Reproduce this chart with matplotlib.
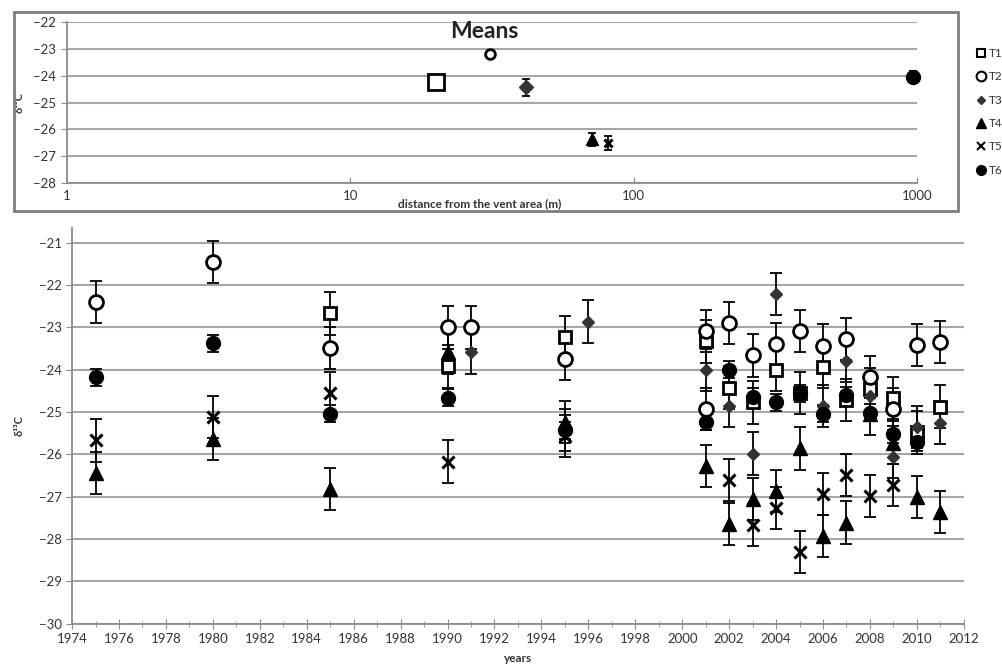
import numpy as np
import matplotlib
matplotlib.use("Agg")
import matplotlib.pyplot as plt
from matplotlib.lines import Line2D
from matplotlib.patches import Rectangle
from matplotlib.ticker import MultipleLocator, FixedLocator

plt.rcParams['font.family'] = ['Lato', 'DejaVu Sans']

# --- data ---
series = ['T1', 'T2', 'T3', 'T4', 'T5', 'T6']

t1_years = [1985, 1990, 1995, 2001, 2002, 2003, 2004, 2005, 2006, 2007, 2008, 2009, 2010, 2011]
t1_vals = [-22.67, -23.92, -23.23, -23.33, -24.42, -24.77, -24.0, -24.55, -23.93, -24.72, -24.46, -24.66, -25.48, -24.87]

t2_years = [1975, 1980, 1985, 1990, 1991, 1995, 2001, 2001, 2002, 2003, 2004, 2005, 2006, 2007, 2008, 2009, 2010, 2011]
t2_vals = [-22.40, -21.46, -23.49, -23.0, -23.0, -23.75, -23.09, -24.93, -22.90, -23.66, -23.39, -23.09, -23.43, -23.27, -24.17, -24.93, -23.42, -23.34]

t3_years = [1991, 1995, 1996, 2001, 2002, 2003, 2004, 2006, 2007, 2008, 2009, 2010, 2011]
t3_vals = [-23.59, -25.42, -22.86, -24.0, -24.85, -25.98, -22.21, -24.85, -23.8, -24.62, -26.05, -25.36, -25.26]

t4_years = [1975, 1980, 1985, 1990, 1995, 2001, 2002, 2003, 2004, 2005, 2006, 2007, 2008, 2009, 2010, 2011]
t4_vals = [-26.44, -25.63, -26.82, -23.59, -25.24, -26.27, -27.64, -27.05, -26.86, -25.86, -27.92, -27.61, -25.05, -25.72, -27.0, -27.36]

t5_years = [1975, 1980, 1985, 1990, 1995, 2002, 2003, 2004, 2005, 2006, 2007, 2008, 2009]
t5_vals = [-25.67, -25.11, -24.55, -26.17, -25.57, -26.61, -27.66, -27.27, -28.31, -26.94, -26.48, -26.99, -26.72]

t6_years = [1975, 1980, 1985, 1990, 1995, 2001, 2002, 2003, 2004, 2005, 2006, 2007, 2008, 2009, 2010]
t6_vals = [-24.18, -23.37, -25.04, -24.66, -25.43, -25.23, -24.0, -24.64, -24.77, -24.55, -25.04, -24.6, -25.02, -25.52, -25.71]

# error bar half-width of each series (yearly panel)
year_err = [0.5, 0.5, 0.5, 0.5, 0.5, 0.2]

# means panel
mean_dist = [20.1, 31.1, 41.6, 71.1, 80.9, 970]
mean_vals = [-24.23, -23.18, -24.44, -26.37, -26.5, -24.04]
mean_err = [0.1, 0.1, 0.3, 0.25, 0.25, 0.2]

all_years = [t1_years, t2_years, t3_years, t4_years, t5_years, t6_years]
all_vals = [t1_vals, t2_vals, t3_vals, t4_vals, t5_vals, t6_vals]

# marker look per series
styles = [
    dict(marker='s', mfc='white', mec='black', ms=8.5, mew=2),
    dict(marker='o', mfc='white', mec='black', ms=10, mew=2),
    dict(marker='D', mfc='#333333', mec='#333333', ms=6, mew=1),
    dict(marker='^', mfc='black', mec='black', ms=9.5, mew=1),
    dict(marker='x', mfc='black', mec='black', ms=8.5, mew=2.2),
    dict(marker='o', mfc='black', mec='black', ms=10, mew=1),
]
top_sizes = [11, 7, 7, 8, 6, 10]

grid_col = '#a6a6a6'
txt_col = '#333333'

fig = plt.figure(figsize=(10.02, 6.71), dpi=100)

# ---------- bottom panel: yearly values ----------
ax = fig.add_axes([0.0719, 0.0705, 0.890, 0.5897])
for yrs, vals, err, st in zip(all_years, all_vals, year_err, styles):
    ax.errorbar(yrs, vals, yerr=err, fmt='none', ecolor='black', elinewidth=1.3,
                capsize=4, capthick=1.3, zorder=3)
    ax.plot(yrs, vals, linestyle='none', zorder=4, **st)

ax.set_xlim(1974, 2012)
ax.set_ylim(-30, -20.65)
ax.xaxis.set_major_locator(MultipleLocator(2))
ax.xaxis.set_minor_locator(MultipleLocator(1))
ax.yaxis.set_major_locator(FixedLocator(range(-30, -20)))
ax.grid(axis='y', color=grid_col, linewidth=1.5, zorder=0)
ax.set_axisbelow(True)
for s in ['top', 'right']:
    ax.spines[s].set_visible(False)
for s in ['left', 'bottom']:
    ax.spines[s].set_color('#8c8c8c')
    ax.spines[s].set_linewidth(1.3)
ax.tick_params(axis='x', which='major', direction='inout', length=7, color='#8c8c8c',
               labelsize=9.5, labelcolor=txt_col, pad=3)
ax.tick_params(axis='x', which='minor', direction='inout', length=4, color='#8c8c8c')
ax.tick_params(axis='y', direction='out', length=4, color='#8c8c8c',
               labelsize=9.5, labelcolor=txt_col)
ax.set_xlabel('years', fontsize=8.5, fontweight='bold', color=txt_col, labelpad=6)
ax.set_ylabel('δ¹³C', fontsize=8, fontweight='bold', color=txt_col, labelpad=10)

# ---------- top panel: means vs distance ----------
fig.patches.append(Rectangle((0.014, 0.686), 0.942, 0.2966, transform=fig.transFigure,
                             fill=False, edgecolor='#7f7f7f', linewidth=2))
ax2 = fig.add_axes([0.0666, 0.7268, 0.8486, 0.2408])
ax2.set_xscale('log')
for d, m, e, st, sz in zip(mean_dist, mean_vals, mean_err, styles, top_sizes):
    ax2.errorbar([d], [m], yerr=e, fmt='none', ecolor='black', elinewidth=1.3,
                 capsize=3, capthick=1.3, zorder=3, clip_on=False)
    st2 = dict(st)
    st2['ms'] = sz
    ax2.plot([d], [m], linestyle='none', zorder=4, clip_on=False, **st2)

ax2.set_xlim(1, 1000)
ax2.set_ylim(-28, -22)
ax2.xaxis.set_major_locator(FixedLocator([1, 10, 100, 1000]))
ax2.xaxis.set_minor_locator(FixedLocator([]))
ax2.set_xticklabels(['1', '10', '100', '1000'])
ax2.yaxis.set_major_locator(FixedLocator(range(-28, -21)))
ax2.grid(axis='y', color=grid_col, linewidth=1.5, zorder=0)
ax2.set_axisbelow(True)
for s in ['top', 'right']:
    ax2.spines[s].set_visible(False)
for s in ['left', 'bottom']:
    ax2.spines[s].set_color('#8c8c8c')
    ax2.spines[s].set_linewidth(1.3)
ax2.tick_params(axis='x', direction='in', length=4, color='#8c8c8c',
                labelsize=9.5, labelcolor=txt_col, pad=5)
ax2.tick_params(axis='y', direction='out', length=4, color='#8c8c8c',
                labelsize=9.5, labelcolor=txt_col)
ax2.set_ylabel('δ¹³C', fontsize=8, fontweight='bold', color=txt_col, labelpad=6)

fig.text(0.483, 1 - 31 / 671, 'Means', ha='center', va='center', fontsize=16.5,
         fontweight='bold', color='#222222')
fig.text(0.479, 1 - 204 / 671, 'distance from the vent area (m)', ha='center', va='center',
         fontsize=8.5, fontweight='bold', color=txt_col)

# legend on the right of the means box
handles = []
for st in styles:
    st3 = dict(st)
    st3['ms'] = st['ms'] * 0.7
    st3['mew'] = min(st['mew'], 1.5)
    handles.append(Line2D([], [], linestyle='none', **st3))
fig.legend(handles, series, loc='upper left', bbox_to_anchor=(0.968, 1 - 42 / 671),
           frameon=False, fontsize=8.5, handlelength=0.8, handletextpad=0.3,
           labelspacing=1.05, borderpad=0, labelcolor=txt_col)

fig.savefig('out.png', dpi=100)
